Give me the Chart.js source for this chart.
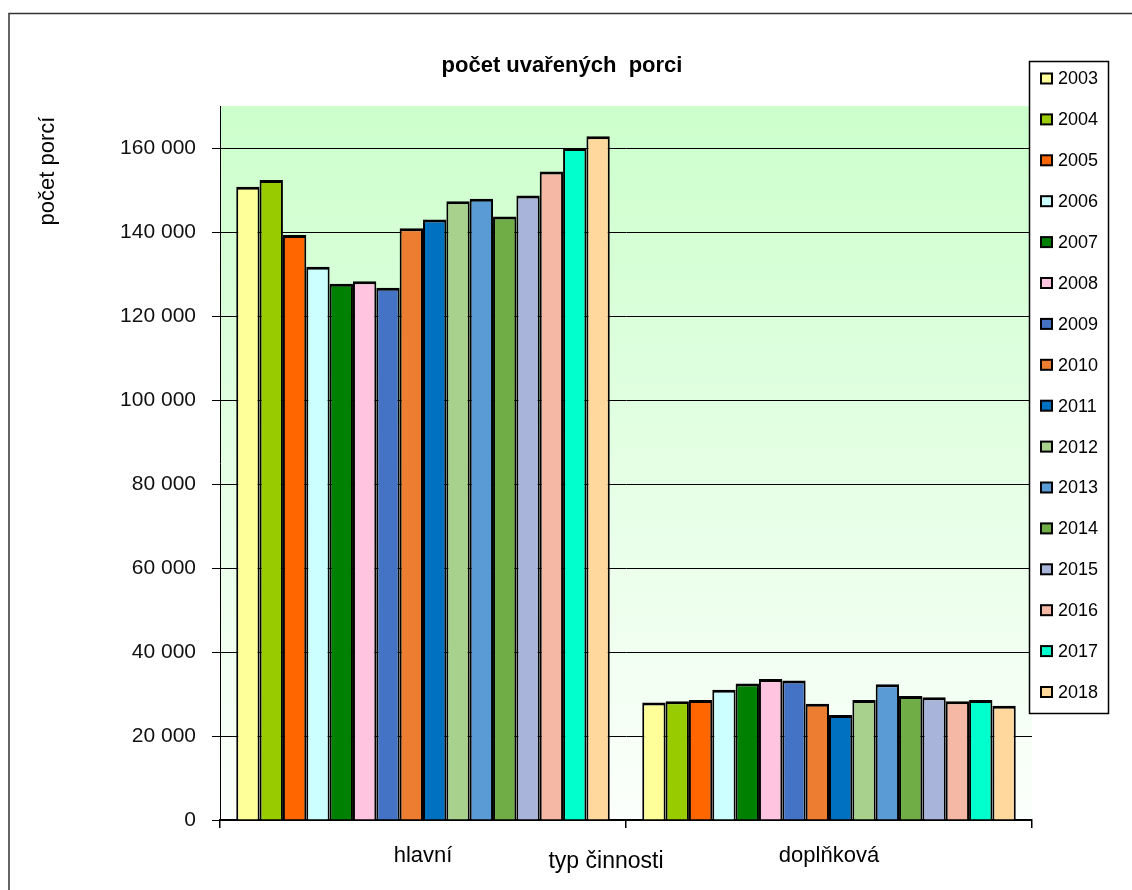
<!DOCTYPE html>
<html>
<head>
<meta charset="utf-8">
<title>počet uvařených porcí</title>
<script src="https://cdn.jsdelivr.net/npm/chart.js@4/dist/chart.umd.min.js"></script>
<style>
  html, body { margin: 0; padding: 0; background: #ffffff; }
  #wrap { position: relative; width: 1132px; height: 890px; }
</style>
</head>
<body>
<div id="wrap"><canvas id="chart" width="1132" height="890"></canvas></div>
<script>
// Activity types on the x axis
const categories = ['hlavní', 'doplňková'];

// One series per year
const years = ['2003', '2004', '2005', '2006', '2007', '2008', '2009', '2010',
               '2011', '2012', '2013', '2014', '2015', '2016', '2017', '2018'];

// Portions cooked per year – main activity
const hlavni = [150800, 152400, 139300, 131700, 127700, 128300, 126700, 140900,
                143000, 147300, 147900, 143700, 148700, 154400, 160000, 162800];

// Portions cooked per year – supplementary activity
const doplnkova = [28000, 28300, 28600, 31000, 32500, 33600, 33200, 27700,
                   25000, 28600, 32300, 29500, 29200, 28300, 28600, 27200];

// Year colours
const yearColors = ['#FFFF99', '#99CC00', '#FF6600', '#CCFFFF', '#008000', '#FFC4E0',
                    '#4472C4', '#ED7D31', '#0070C0', '#A9D18E', '#5B9BD5', '#70AD47',
                    '#A8B4DA', '#F4B8A5', '#00FFCC', '#FFD89E'];

// Value axis range and tick labels
const yMin = 0;
const yMax = 170000;
const yTickValues = [0, 20000, 40000, 60000, 80000, 100000, 120000, 140000, 160000];

const chartTitle = 'počet uvařených  porci';
const yAxisTitle = 'počet porcí';
const xAxisTitle = 'typ činnosti';

const FONT = '"Liberation Sans", Arial, sans-serif';

const datasets = years.map((y, i) => ({
  label: y,
  data: [hlavni[i], doplnkova[i]],
  backgroundColor: yearColors[i],
  borderColor: '#000000',
  borderWidth: { top: 3, left: 2, right: 2, bottom: 0 },
  borderSkipped: false
}));

const formatThousands = v => String(Math.round(v)).replace(/\B(?=(\d{3})+(?!\d))/g, ' ');

// Plot background: green fading to white
const plotBackground = {
  id: 'plotBackground',
  beforeDraw(chart) {
    const { ctx, chartArea: a } = chart;
    const g = ctx.createLinearGradient(0, a.top, 0, a.bottom);
    g.addColorStop(0, '#CCFFCC');
    g.addColorStop(1, '#FCFFFC');
    ctx.save();
    ctx.fillStyle = g;
    ctx.fillRect(a.left, a.top, a.right - a.left, a.bottom - a.top);
    ctx.restore();
  }
};

// Frame, titles and boxed legend
const decorations = {
  id: 'decorations',
  afterDraw(chart) {
    const { ctx, chartArea: a } = chart;
    ctx.save();

    // outer frame (top and left edges)
    ctx.strokeStyle = '#333333';
    ctx.lineWidth = 1.5;
    ctx.beginPath();
    ctx.moveTo(9, 890);
    ctx.lineTo(9, 13.5);
    ctx.lineTo(1132, 13.5);
    ctx.stroke();

    // chart title
    ctx.fillStyle = '#000000';
    ctx.textAlign = 'center';
    ctx.textBaseline = 'middle';
    ctx.font = 'bold 22px ' + FONT;
    ctx.fillText(chartTitle, 562, 66);

    // y axis title
    ctx.save();
    ctx.translate(48, 171);
    ctx.rotate(-Math.PI / 2);
    ctx.font = '22px ' + FONT;
    ctx.fillText(yAxisTitle, 0, 0);
    ctx.restore();

    // x axis title
    ctx.font = '23px ' + FONT;
    ctx.fillText(xAxisTitle, (a.left + a.right) / 2 - 20, 862);

    // legend box
    const lx = 1029.5, ly = 61.5, lw = 79, lh = 652;
    ctx.fillStyle = '#ffffff';
    ctx.fillRect(lx, ly, lw, lh);
    ctx.strokeStyle = '#000000';
    ctx.lineWidth = 1.5;
    ctx.strokeRect(lx, ly, lw, lh);

    ctx.font = '18px ' + FONT;
    ctx.textAlign = 'left';
    chart.data.datasets.forEach((ds, i) => {
      const cy = 78.5 + i * 40.9;
      ctx.fillStyle = ds.backgroundColor;
      ctx.fillRect(1041, cy - 5, 11, 10);
      ctx.strokeStyle = '#000000';
      ctx.lineWidth = 2;
      ctx.strokeRect(1041, cy - 5, 11, 10);
      ctx.fillStyle = '#000000';
      ctx.fillText(ds.label, 1058, cy + 1);
    });

    ctx.restore();
  }
};

new Chart(document.getElementById('chart'), {
  type: 'bar',
  data: { labels: categories, datasets },
  options: {
    responsive: false,
    animation: false,
    devicePixelRatio: 1,
    layout: { padding: { left: 10, right: 100, top: 106, bottom: 0 } },
    datasets: { bar: { categoryPercentage: 0.92, barPercentage: 1.0 } },
    plugins: {
      legend: { display: false },
      title: { display: false },
      tooltip: { enabled: false }
    },
    scales: {
      x: {
        type: 'category',
        afterFit(scale) { scale.height = 70; },
        grid: {
          offset: true,
          drawOnChartArea: false,
          drawTicks: true,
          tickLength: 8,
          color: '#000000',
          lineWidth: 1.5
        },
        border: { display: true, color: '#000000', width: 2 },
        ticks: {
          color: '#000000',
          padding: 15,
          font: { family: FONT, size: 22 }
        }
      },
      y: {
        min: yMin,
        max: yMax,
        afterFit(scale) { scale.width = 210; },
        afterBuildTicks(scale) { scale.ticks = yTickValues.map(v => ({ value: v })); },
        grid: {
          color: '#000000',
          lineWidth: 1,
          drawTicks: true,
          tickLength: 8
        },
        border: { display: true, color: '#000000', width: 1 },
        ticks: {
          color: '#111111',
          padding: 16,
          font: { family: FONT, size: 21 },
          callback: v => formatThousands(v)
        }
      }
    }
  },
  plugins: [plotBackground, decorations]
});
</script>
</body>
</html>
